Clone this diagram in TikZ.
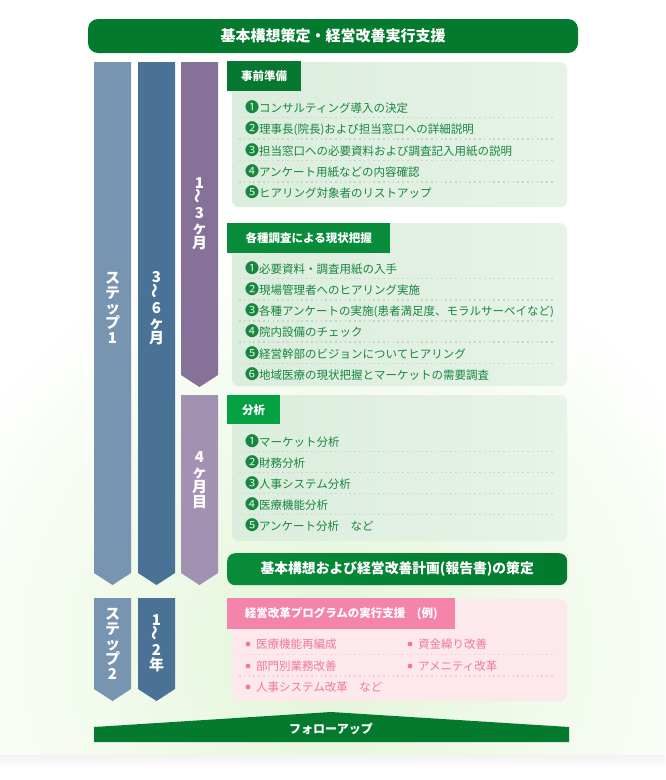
\documentclass[tikz,border=0pt]{standalone}
\usepackage{fontspec}
\newfontfamily\jp{Noto Sans CJK JP}
\usetikzlibrary{positioning}
\definecolor{bandgreen}{RGB}{3,122,46}
\definecolor{tabgreenA}{RGB}{6,120,48}
\definecolor{tabgreenB}{RGB}{8,140,58}
\definecolor{tabgreenC}{RGB}{4,160,66}
\definecolor{itemgreen}{RGB}{22,135,62}
\definecolor{boxgreen}{RGB}{219,237,221}
\definecolor{boxgreenB}{RGB}{231,243,232}
\definecolor{dotgreen}{RGB}{188,218,196}
\definecolor{glowgreen}{RGB}{226,245,214}
\definecolor{stepblue}{RGB}{119,148,177}
\definecolor{monthblue}{RGB}{74,114,150}
\definecolor{monthpurple}{RGB}{134,113,152}
\definecolor{monthlilac}{RGB}{162,145,176}
\definecolor{tabpink}{RGB}{245,132,170}
\definecolor{itempink}{RGB}{238,120,160}
\definecolor{boxpink}{RGB}{253,232,236}
\definecolor{dotpink}{RGB}{248,200,214}
\newcommand{\wavy}{\rotatebox{90}{〜}}
\newcommand{\cnum}[1]{{\fontsize{14}{12}\selectfont #1}}

\begin{document}
\begin{tikzpicture}[x=1pt,y=1pt,yscale=-1,xscale=1,
  font=\jp,
  item/.style={anchor=west, inner sep=0pt, text=itemgreen,
    font=\jp\fontsize{11.5}{12}\selectfont},
  pinkitem/.style={item, text=itempink},
  tab/.style={anchor=north west, inner sep=0pt, text=white,
    font=\jp\bfseries\fontsize{11.5}{12}\selectfont, minimum height=30pt},
  secbox/.style={anchor=north west, inner sep=0pt, rounded corners=7pt,
    left color=boxgreen, right color=boxgreenB, minimum width=335pt},
  tate/.style={text=white, align=center,
    font=\jp\bfseries\fontsize{15}{15}\selectfont},
  sep/.style={dotgreen, line width=1.3pt, dash pattern=on 1.6pt off 3.2pt}]

  % background
  \fill[white] (0,0) rectangle (665,780);
  \begin{scope}
    \clip (0,0) rectangle (665,755);
    \shade[inner color=glowgreen, outer color=white] (330,650) circle (430);
  \end{scope}
  \shade[top color=black!5, bottom color=white] (0,755) rectangle (665,768);

  \node[fill=bandgreen, rounded corners=10pt, minimum width=490pt, minimum height=34pt,
    text=white, font=\jp\bfseries\fontsize{15}{15}\selectfont] (title) at (333,36)
    {基本構想策定・経営改善実行支援};

  % columns
  \fill[stepblue] (94,62) -- (131,62) -- (131,573) -- (112.5,585) -- (94,573) -- cycle;
  \fill[monthblue] (138,62) -- (175,62) -- (175,573) -- (156.5,585) -- (138,573) -- cycle;
  \fill[monthpurple] (181,62) -- (218,62) -- (218,375) -- (199.5,387) -- (181,375) -- cycle;
  \fill[monthlilac] (181,395) -- (218,395) -- (218,573) -- (199.5,585) -- (181,573) -- cycle;
  \fill[stepblue] (94,598) -- (131,598) -- (131,689) -- (112.5,701) -- (94,689) -- cycle;
  \fill[monthblue] (138,598) -- (175,598) -- (175,689) -- (156.5,701) -- (138,689) -- cycle;
  \node[tate] (step1) at (112.5,308) {ス\\テ\\ッ\\プ\\1};
  \node[tate] (span1) at (156.5,308) {3\\\wavy\\6\\ヶ\\月};
  \node[tate] (prep) at (199.5,214) {1\\\wavy\\3\\ヶ\\月};
  \node[tate] (month4) at (199.5,480) {4\\ヶ\\月\\目};
  \node[tate] (step2) at (112.5,644) {ス\\テ\\ッ\\プ\\2};
  \node[tate] (span2) at (156.5,643) {1\\\wavy\\2\\年};

  % preparation
  \node[secbox, minimum height=145pt] (prepbox) at (232,62) {};
  \node[tab, fill=tabgreenA, minimum width=74pt] (preptab) at (227,61) {事前準備};
  \node[item] (p1) at (245,107) {\cnum{❶}コンサルティング導入の決定};
  \node[item] (p2) at (245,129) {\cnum{❷}理事長(院長)および担当窓口への詳細説明};
  \node[item] (p3) at (245,150) {\cnum{❸}担当窓口への必要資料および調査記入用紙の説明};
  \node[item] (p4) at (245,171) {\cnum{❹}アンケート用紙などの内容確認};
  \node[item] (p5) at (245,192) {\cnum{❺}ヒアリング対象者のリストアップ};
  \draw[sep] (239,117.5) -- (554,117.5) (239,139) -- (554,139)
    (239,160.5) -- (554,160.5) (239,182) -- (554,182);

  % survey
  \node[secbox, minimum height=163pt] (surveybox) at (232,223) {};
  \node[tab, fill=tabgreenB, minimum width=163pt] (surveytab) at (227,223) {各種調査による現状把握};
  \node[item] (s1) at (245,268) {\cnum{❶}必要資料・調査用紙の入手};
  \node[item] (s2) at (245,289) {\cnum{❷}現場管理者へのヒアリング実施};
  \node[item] (s3) at (245,311) {\cnum{❸}各種アンケートの実施(患者満足度、モラルサーベイなど)};
  \node[item] (s4) at (245,331) {\cnum{❹}院内設備のチェック};
  \node[item] (s5) at (245,353) {\cnum{❺}経営幹部のビジョンについてヒアリング};
  \node[item] (s6) at (245,374) {\cnum{❻}地域医療の現状把握とマーケットの需要調査};
  \draw[sep] (239,278.5) -- (554,278.5) (239,300) -- (554,300) (239,321) -- (554,321)
    (239,342) -- (554,342) (239,363.5) -- (554,363.5);

  % analysis
  \node[secbox, minimum height=146pt] (analysisbox) at (232,395) {};
  \node[tab, fill=tabgreenC, minimum width=53pt, minimum height=29pt] (analysistab) at (227,395) {分析};
  \node[item] (a1) at (245,441) {\cnum{❶}マーケット分析};
  \node[item] (a2) at (245,462) {\cnum{❷}財務分析};
  \node[item] (a3) at (245,483) {\cnum{❸}人事システム分析};
  \node[item] (a4) at (245,504) {\cnum{❹}医療機能分析};
  \node[item] (a5) at (245,525) {\cnum{❺}アンケート分析　など};
  \draw[sep] (239,451.5) -- (554,451.5) (239,472.5) -- (554,472.5)
    (239,493.5) -- (554,493.5) (239,514.5) -- (554,514.5);

  \node[anchor=north west, rounded corners=8pt, left color=tabgreenB, right color=bandgreen,
    minimum width=340pt, minimum height=32pt, text=white,
    font=\jp\bfseries\fontsize{13.8}{14}\selectfont] (plan) at (227,553)
    {基本構想および経営改善計画(報告書)の策定};

  % execution
  \node[secbox, left color=boxpink, right color=boxpink, minimum height=102pt] (execbox) at (232,599) {};
  \node[tab, fill=tabpink, minimum width=228pt, minimum height=31pt] (exectab) at (227,598) {経営改革プログラムの実行支援　(例)};
  \node[pinkitem] (e1) at (256,644) {医療機能再編成};
  \node[pinkitem] (e2) at (256,666) {部門別業務改善};
  \node[pinkitem] (e3) at (256,687) {人事システム改革　など};
  \node[pinkitem] (e4) at (418,644) {資金繰り改善};
  \node[pinkitem] (e5) at (418,666) {アメニティ改革};
  \fill[itempink] (248,644) circle (2.4) (248,666) circle (2.4) (248,687) circle (2.4)
    (410,644) circle (2.4) (410,666) circle (2.4);
  \draw[sep, dotpink] (239,654.5) -- (554,654.5) (239,676) -- (554,676);

  % follow-up
  \fill[bandgreen] (94,742) -- (94,727) -- (331,712) -- (569,727) -- (569,742) -- cycle;
  \node[text=white, font=\jp\bfseries\fontsize{12}{12}\selectfont] (followup) at (331,729) {フォローアップ};
\end{tikzpicture}
\end{document}
